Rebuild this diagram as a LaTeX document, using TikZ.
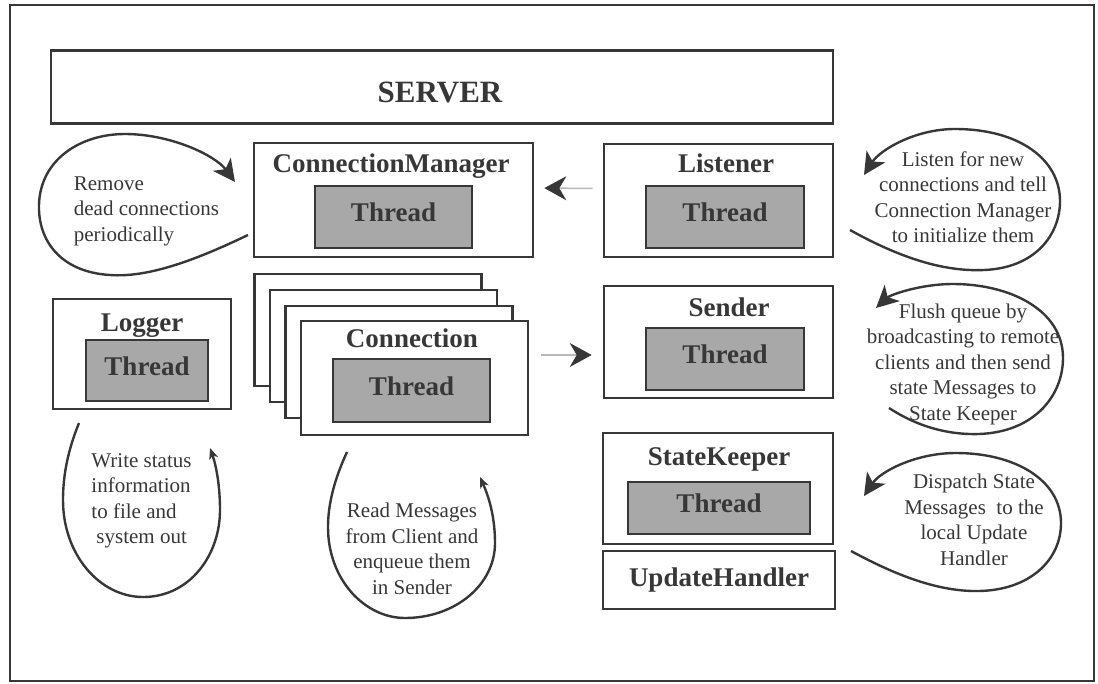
\documentclass[tikz,border=0pt]{standalone}
\usepackage{fontspec}
\setmainfont{Liberation Serif}
\usetikzlibrary{arrows.meta}
\definecolor{ink}{RGB}{55,55,55}
\definecolor{threadgrey}{RGB}{168,168,168}
\definecolor{linkgrey}{RGB}{185,185,185}

\begin{document}
\begin{tikzpicture}[x=1pt, y=-1pt,
  box/.style={draw=ink, line width=2.6pt, fill=white, inner sep=0pt},
  thread/.style={draw=ink, line width=2.6pt, fill=threadgrey, inner sep=0pt, text=ink,
    font=\fontsize{27}{30}\selectfont\bfseries, text height=19pt, text depth=10pt},
  title/.style={text=ink, inner sep=0pt, font=\fontsize{27}{30}\selectfont\bfseries,
    text height=19pt, text depth=6pt},
  note/.style={text=ink, inner sep=0pt, align=center, font=\fontsize{21}{25.5}\selectfont},
  loop/.style={draw=ink, line width=2.4pt, -{Stealth[length=22pt, width=22pt, inset=6pt]}},
  smallloop/.style={draw=ink, line width=2.4pt, -{Stealth[length=11pt, width=9pt, inset=3pt]}},
  link/.style={draw=linkgrey, line width=1.5pt, -{Stealth[length=22pt, width=24pt, inset=7pt, color=ink]}}
]
\useasboundingbox (0,0) rectangle (1098,683);
\draw[ink, line width=2pt] (10,5) rectangle (1094,681);

\node[box, minimum width=782, minimum height=73] (server) at (442,87) {};
\node[title, font=\fontsize{31}{34}\selectfont\bfseries] (servertitle) at (440,96) {SERVER};

\node[box, minimum width=279, minimum height=114] (cm) at (393.5,200) {};
\node[title] (cmtitle) at (391,166) {ConnectionManager};
\node[thread, minimum width=157, minimum height=62] (cmthread) at (393.5,217) {Thread};

\node[box, minimum width=229, minimum height=113] (lst) at (718.5,200.5) {};
\node[title] (lsttitle) at (726,166) {Listener};
\node[thread, minimum width=158, minimum height=62] (lstthread) at (725,217) {Thread};

\node[box, minimum width=229, minimum height=112] (snd) at (718.5,342) {};
\node[title] (sndtitle) at (729,310) {Sender};
\node[thread, minimum width=158, minimum height=62] (sndthread) at (725,359) {Thread};

\node[box, minimum width=230, minimum height=111] (sk) at (718,488.5) {};
\node[title] (sktitle) at (719,459) {StateKeeper};
\node[thread, minimum width=182, minimum height=52] (skthread) at (719,508) {Thread};

\node[box, minimum width=232, minimum height=58, font=\fontsize{27}{30}\selectfont\bfseries,
  text=ink, text height=19pt, text depth=6pt] (upd) at (719,580) {UpdateHandler};

\node[box, minimum width=178, minimum height=110] (log) at (142,354) {};
\node[title] (logtitle) at (142,325) {Logger};
\node[thread, minimum width=122, minimum height=61] (logthread) at (147,370.5) {Thread};

\foreach \k in {3,2,1} {
  \node[box, minimum width=227, minimum height=112] (conn\k) at (414.5-\k*15.5,378-\k*16) {};
}
\node[box, minimum width=227, minimum height=114] (conn) at (414.5,378) {};
\node[title] (conntitle) at (412,341) {Connection};
\node[thread, minimum width=157, minimum height=63] (connthread) at (411.5,390.5) {Thread};

\draw[link, shorten <=10pt, shorten >=10pt] ([yshift=12pt]lst.west) -- ([yshift=12pt]cm.east);
\draw[link, shorten <=12pt, shorten >=11pt] ([yshift=23pt]conn.east) -- ([yshift=-13pt]snd.west);

\draw[loop] (248,235) .. controls (200,258) and (150,278) .. (110,275)
  .. controls (60,272) and (38,240) .. (39,205)
  .. controls (40,160) and (80,134) .. (125,134)
  .. controls (170,134) and (215,155) .. (235,182);
\draw[loop] (850,230) .. controls (895,255) and (940,272) .. (984,270)
  .. controls (1035,268) and (1060,235) .. (1060,201)
  .. controls (1060,160) and (1020,129) .. (955,129)
  .. controls (915,129) and (880,150) .. (864,175);
\draw[loop] (889,408) .. controls (915,425) and (945,435) .. (979,434)
  .. controls (1035,432) and (1063,395) .. (1063,358)
  .. controls (1063,310) and (1010,284) .. (953,284)
  .. controls (920,284) and (890,295) .. (876,308);
\draw[loop] (851,551) .. controls (890,572) and (935,592) .. (979,591)
  .. controls (1030,590) and (1061,560) .. (1061,523)
  .. controls (1061,480) and (1015,453) .. (956,453)
  .. controls (915,453) and (880,472) .. (864,496);
\draw[smallloop] (79,423) .. controls (68,450) and (63,475) .. (63,500)
  .. controls (63,555) and (100,597) .. (143,597)
  .. controls (190,597) and (220,555) .. (220,510)
  .. controls (220,485) and (216,465) .. (210,448);
\draw[smallloop] (347,452) .. controls (335,478) and (328,503) .. (328,527)
  .. controls (328,580) and (365,618) .. (405,618)
  .. controls (455,618) and (495,585) .. (495,543)
  .. controls (495,515) and (488,495) .. (480,477);

\node[note, align=left] (removenote) at (146.5,211) {Remove\\dead connections\\periodically};
\node[note] (lstnote) at (963,197) {Listen for new\\connections and tell\\Connection Manager\\to initialize them};
\node[note] (sndnote) at (963,364) {Flush queue by\\broadcasting to remote\\clients and then send\\state Messages to\\State Keeper};
\node[note] (sknote) at (974,520) {Dispatch State\\Messages\ \ to the\\local Update\\Handler};
\node[note, align=left] (lognote) at (141.5,501) {Write status\\information\\to file and\\\hspace*{5pt}system out};
\node[note] (connnote) at (412,549) {Read Messages\\from Client and\\enqueue them\\in Sender};
\end{tikzpicture}
\end{document}
